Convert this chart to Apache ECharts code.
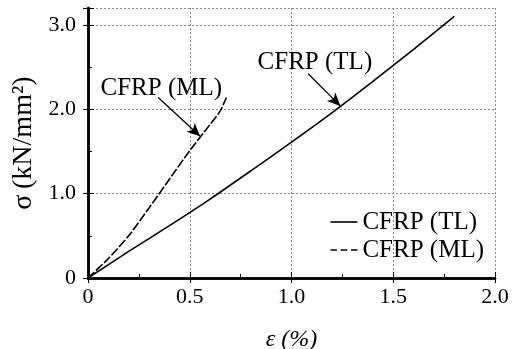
<!DOCTYPE html>
<html>
<head>
<meta charset="utf-8">
<script src="https://cdn.jsdelivr.net/npm/echarts@6.0.0/dist/echarts.min.js"></script>
<style>
html,body{margin:0;padding:0;background:#fff;}
#chart{width:518px;height:349px;}
</style>
</head>
<body>
<div id="chart"></div>
<script>
// ---- data ----
const tlStrain = [0, 0.2, 0.4, 0.6, 0.8, 1.0, 1.2, 1.4, 1.6, 1.8];
const tlStress = [0, 0.315, 0.62, 0.935, 1.27, 1.61, 1.96, 2.33, 2.71, 3.10];
const mlStrain = [0, 0.1, 0.2, 0.3, 0.4, 0.5, 0.6, 0.65, 0.68];
const mlStress = [0, 0.23, 0.5, 0.83, 1.17, 1.51, 1.82, 1.98, 2.14];
const xTickValues = [0, 0.5, 1.0, 1.5, 2.0];
const xTickLabels = ['0', '0.5', '1.0', '1.5', '2.0'];
const yTickValues = [0, 1, 2, 3];
const yTickLabels = ['0', '1.0', '2.0', '3.0'];
const seriesNames = ['CFRP (TL)', 'CFRP (ML)'];
// annotations (data coordinates)
const annTexts = ['CFRP (ML)', 'CFRP (TL)'];
const annX = [0.36, 1.115];
const annY = [2.25, 2.56];
const arrowFrom = [[0.345, 2.14], [1.082, 2.42]];
const arrowTo = [[0.551, 1.68], [1.24, 2.04]];

const zip = (a, b) => a.map((v, i) => [v, b[i]]);
const FONT = '"Liberation Serif", "Times New Roman", serif';

const chart = echarts.init(document.getElementById('chart'), null, {renderer: 'canvas'});

function labelFrom(values, labels) {
  return function (v) {
    for (let i = 0; i < values.length; i++) {
      if (Math.abs(values[i] - v) < 1e-6) return labels[i];
    }
    return '';
  };
}

const axisLine = {show: true, lineStyle: {color: '#000', width: 2.5}};
// legend icons: a solid stroke and a short-dash stroke
const solidIcon = 'path://M0,0h27v1.6h-27z';
const dashIcon = 'path://M0,0h6v1.6h-6zM9.5,0h6v1.6h-6zM19,0h6v1.6h-6z';

const option = {
  animation: false,
  backgroundColor: '#fff',
  grid: {left: 88, right: 23, top: 8, bottom: 71, containLabel: false, outerBoundsMode: 'none'},
  legend: {
    data: [{name: seriesNames[0], icon: solidIcon}, {name: seriesNames[1], icon: dashIcon}],
    orient: 'vertical',
    right: 29,
    top: 204,
    itemWidth: 27,
    itemHeight: 2,
    itemGap: 2,
    itemStyle: {color: '#000', borderWidth: 0},
    textStyle: {fontFamily: FONT, fontSize: 25, color: '#000', lineHeight: 26},
    inactiveColor: '#000'
  },
  xAxis: [{
    type: 'value', min: 0, max: 2, interval: 0.5,
    name: 'ε (%)', nameLocation: 'middle', nameGap: 50,
    nameTextStyle: {fontFamily: FONT, fontSize: 24, fontStyle: 'italic', color: '#000'},
    axisLine: axisLine,
    axisTick: {show: true, inside: true, length: 6, lineStyle: {color: '#000', width: 1}},
    minorTick: {show: true, splitNumber: 2, length: 4, lineStyle: {color: '#000', width: 1}},
    axisLabel: {fontFamily: FONT, fontSize: 22, color: '#000', margin: 8,
      formatter: labelFrom(xTickValues, xTickLabels)},
    splitLine: {show: true, lineStyle: {color: '#888', type: [2, 2], width: 1}}
  }, {
    type: 'value', min: 0, max: 2, interval: 0.5, position: 'top',
    axisLine: axisLine,
    axisTick: {show: true, inside: true, length: 5, lineStyle: {color: '#000', width: 1}},
    axisLabel: {show: false}, splitLine: {show: false}
  }],
  yAxis: [{
    type: 'value', min: 0, max: 3.2, interval: 1,
    name: 'σ\u2009(kN/mm²)', nameLocation: 'middle', nameGap: 50, nameRotate: 90,
    nameTextStyle: {fontFamily: FONT, fontSize: 28, color: '#000'},
    axisLine: axisLine,
    axisTick: {show: true, inside: true, length: 6, lineStyle: {color: '#000', width: 1}},
    minorTick: {show: true, splitNumber: 2, length: 4, lineStyle: {color: '#000', width: 1}},
    axisLabel: {fontFamily: FONT, fontSize: 22, color: '#000', margin: 12, showMaxLabel: false,
      formatter: labelFrom(yTickValues, yTickLabels)},
    splitLine: {show: true, lineStyle: {color: '#888', type: [2, 2], width: 1}}
  }, {
    type: 'value', min: 0, max: 3.2, interval: 1, position: 'right',
    axisLine: axisLine,
    axisTick: {show: true, inside: true, length: 5, lineStyle: {color: '#000', width: 1}},
    axisLabel: {show: false}, splitLine: {show: false}
  }],
  series: [
    {
      name: seriesNames[0], type: 'line', data: zip(tlStrain, tlStress),
      showSymbol: false, symbol: 'none', smooth: 0.2,
      lineStyle: {color: '#000', width: 1.6, type: 'solid'},
      itemStyle: {color: '#000'}
    },
    {
      name: seriesNames[1], type: 'line', data: zip(mlStrain, mlStress),
      showSymbol: false, symbol: 'none', smooth: 0.2,
      lineStyle: {color: '#000', width: 1.6, type: [9, 2]},
      itemStyle: {color: '#000'}
    },
    {
      name: 'annotations', type: 'scatter', silent: true,
      data: annTexts.map((t, i) => ({name: t, value: [annX[i], annY[i]]})),
      symbolSize: 0,
      itemStyle: {opacity: 1, color: '#000'},
      label: {show: true, position: 'inside', formatter: '{b}',
        fontFamily: FONT, fontSize: 25, color: '#000', opacity: 1},
      markLine: {
        silent: true, symbol: ['none', 'arrow'], symbolSize: [9, 13],
        lineStyle: {color: '#000', width: 1.3, type: 'solid', opacity: 1},
        label: {show: false},
        data: arrowFrom.map((f, i) => [{coord: f}, {coord: arrowTo[i]}])
      }
    }
  ]
};
chart.setOption(option);
</script>
</body>
</html>
